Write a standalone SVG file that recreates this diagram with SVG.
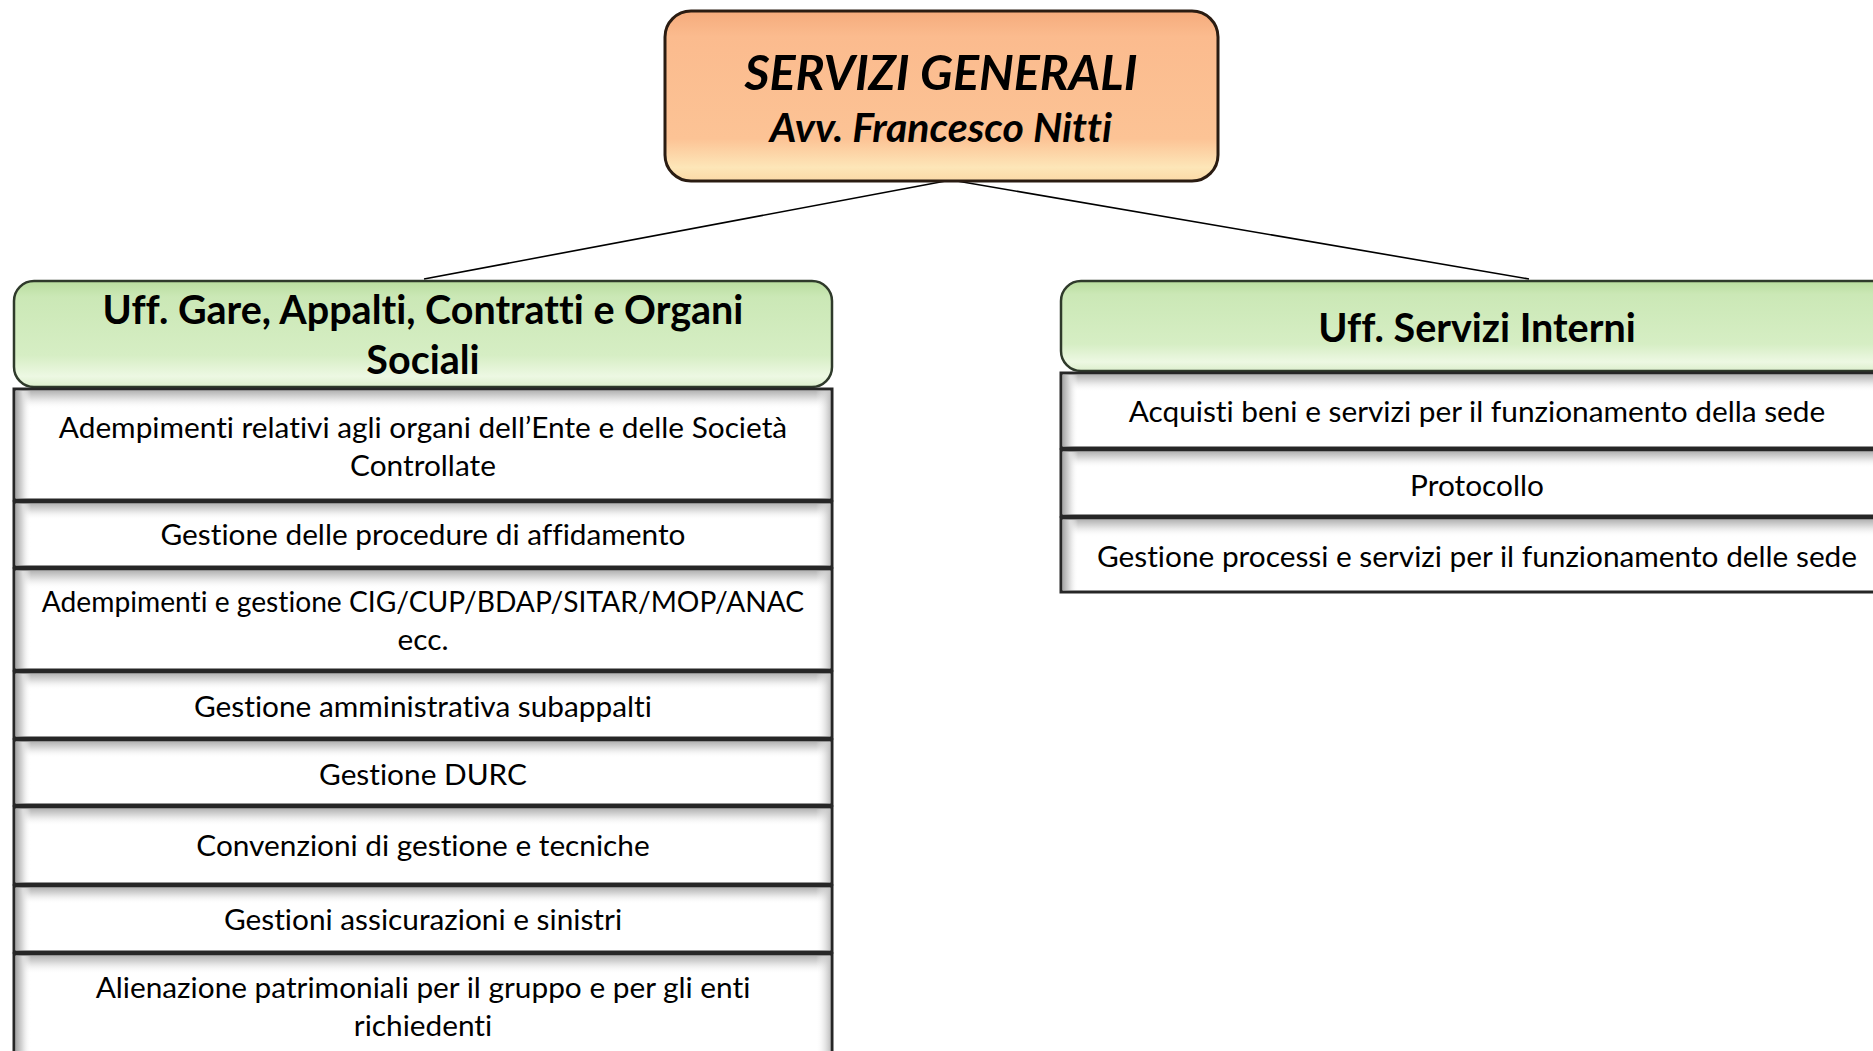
<svg xmlns="http://www.w3.org/2000/svg" width="1873" height="1051" viewBox="0 0 1873 1051">
<defs>
<linearGradient id="gOrange" x1="0" y1="0" x2="0" y2="1">
<stop offset="0" stop-color="#f5ab7c"/>
<stop offset="0.15" stop-color="#fbbb8e"/>
<stop offset="0.75" stop-color="#fcc395"/>
<stop offset="0.92" stop-color="#fde6b8"/>
<stop offset="1" stop-color="#fbd9a6"/>
</linearGradient>
<linearGradient id="gGreen" x1="0" y1="0" x2="0" y2="1">
<stop offset="0" stop-color="#b9dd9e"/>
<stop offset="0.15" stop-color="#cbe8b6"/>
<stop offset="0.7" stop-color="#d6eec4"/>
<stop offset="0.9" stop-color="#edf8e3"/>
<stop offset="1" stop-color="#dcefcc"/>
</linearGradient>
<linearGradient id="gTop" x1="0" y1="0" x2="0" y2="1">
<stop offset="0" stop-color="#b5b5b5"/>
<stop offset="0.4" stop-color="#dedede"/>
<stop offset="1" stop-color="#ffffff" stop-opacity="0"/>
</linearGradient>
<linearGradient id="gLeft" x1="0" y1="0" x2="1" y2="0">
<stop offset="0" stop-color="#a9a9a9"/>
<stop offset="0.45" stop-color="#dcdcdc"/>
<stop offset="1" stop-color="#ffffff" stop-opacity="0"/>
</linearGradient>
<linearGradient id="gRight" x1="1" y1="0" x2="0" y2="0">
<stop offset="0" stop-color="#c4c4c4"/>
<stop offset="1" stop-color="#ffffff" stop-opacity="0"/>
</linearGradient>
</defs>
<style>
.top{fill:url(#gOrange);stroke:#2a1c12;stroke-width:3}
.hdr{fill:url(#gGreen);stroke:#2f3a2b;stroke-width:2.5}
.item{fill:#ffffff;stroke:#262626;stroke-width:3}
.bt{fill:url(#gTop)}
.bl{fill:url(#gLeft)}
.br{fill:url(#gRight)}
.conn{stroke:#000;stroke-width:1.6;fill:none}
text{font-family:Lato,"Open Sans","Liberation Sans",sans-serif;fill:#000;text-anchor:middle;font-variant-ligatures:none;font-feature-settings:"liga" 0,"clig" 0}
.t1{font-size:48.5px;font-weight:700;font-style:italic}
.t2{font-size:41px;font-weight:700;font-style:italic}
.h{font-size:39.5px;font-weight:700}
.i{font-size:29.8px}
.ic{font-size:28.2px}
</style>
<rect width="1873" height="1051" fill="#ffffff"/>
<g id="connectors">
<line class="conn" x1="951" y1="180" x2="424" y2="279"/>
<line class="conn" x1="951" y1="180" x2="1529" y2="279"/>
</g>
<g id="servizi-generali">
<rect class="top" x="665" y="11" width="553" height="170" rx="26"/>
<text class="t1" x="941" y="90">SERVIZI GENERALI</text>
<text class="t2" x="941" y="142">Avv. Francesco Nitti</text>
</g>
<g id="uff-gare">
<rect class="hdr" x="14" y="281" width="818" height="106" rx="20"/>
<text class="h" x="423" y="324">Uff. Gare, Appalti, Contratti e Organi</text>
<text class="h" x="423" y="374">Sociali</text>
</g>
<g id="item-l1">
<rect class="item" x="14" y="389" width="818" height="111"/>
<rect class="bt" x="16" y="391" width="814" height="18"/><rect class="bl" x="16" y="391" width="15" height="107"/><rect class="br" x="816" y="391" width="14" height="107"/>
<text class="i" x="423" y="438">Adempimenti relativi agli organi dell’Ente e delle Società</text>
<text class="i" x="423" y="476">Controllate</text>
</g>
<g id="item-l2">
<rect class="item" x="14" y="502" width="818" height="65"/>
<rect class="bt" x="16" y="504" width="814" height="16"/><rect class="bl" x="16" y="504" width="15" height="61"/><rect class="br" x="816" y="504" width="14" height="61"/>
<text class="i" x="423" y="545">Gestione delle procedure di affidamento</text>
</g>
<g id="item-l3">
<rect class="item" x="14" y="569" width="818" height="101"/>
<rect class="bt" x="16" y="571" width="814" height="18"/><rect class="bl" x="16" y="571" width="15" height="97"/><rect class="br" x="816" y="571" width="14" height="97"/>
<text class="ic" x="423" y="612">Adempimenti e gestione CIG/CUP/BDAP/SITAR/MOP/ANAC</text>
<text class="i" x="423" y="650">ecc.</text>
</g>
<g id="item-l4">
<rect class="item" x="14" y="672" width="818" height="66"/>
<rect class="bt" x="16" y="674" width="814" height="16"/><rect class="bl" x="16" y="674" width="15" height="62"/><rect class="br" x="816" y="674" width="14" height="62"/>
<text class="i" x="423" y="717">Gestione amministrativa subappalti</text>
</g>
<g id="item-l5">
<rect class="item" x="14" y="740" width="818" height="65"/>
<rect class="bt" x="16" y="742" width="814" height="16"/><rect class="bl" x="16" y="742" width="15" height="61"/><rect class="br" x="816" y="742" width="14" height="61"/>
<text class="i" x="423" y="785">Gestione DURC</text>
</g>
<g id="item-l6">
<rect class="item" x="14" y="807" width="818" height="77"/>
<rect class="bt" x="16" y="809" width="814" height="17"/><rect class="bl" x="16" y="809" width="15" height="73"/><rect class="br" x="816" y="809" width="14" height="73"/>
<text class="i" x="423" y="856">Convenzioni di gestione e tecniche</text>
</g>
<g id="item-l7">
<rect class="item" x="14" y="886" width="818" height="66"/>
<rect class="bt" x="16" y="888" width="814" height="16"/><rect class="bl" x="16" y="888" width="15" height="62"/><rect class="br" x="816" y="888" width="14" height="62"/>
<text class="i" x="423" y="930">Gestioni assicurazioni e sinistri</text>
</g>
<g id="item-l8">
<rect class="item" x="14" y="954" width="818" height="110"/>
<rect class="bt" x="16" y="956" width="814" height="18"/><rect class="bl" x="16" y="956" width="15" height="100"/><rect class="br" x="816" y="956" width="14" height="100"/>
<text class="i" x="423" y="998">Alienazione patrimoniali per il gruppo e per gli enti</text>
<text class="i" x="423" y="1036">richiedenti</text>
</g>
<g id="uff-servizi-interni">
<rect class="hdr" x="1061" y="281" width="840" height="90" rx="20"/>
<text class="h" x="1477" y="342">Uff. Servizi Interni</text>
</g>
<g id="item-r1">
<rect class="item" x="1061" y="373" width="840" height="75"/>
<rect class="bt" x="1063" y="375" width="836" height="17"/><rect class="bl" x="1063" y="375" width="15" height="71"/>
<text class="i" x="1477" y="422">Acquisti beni e servizi per il funzionamento della sede</text>
</g>
<g id="item-r2">
<rect class="item" x="1061" y="450" width="840" height="66"/>
<rect class="bt" x="1063" y="452" width="836" height="16"/><rect class="bl" x="1063" y="452" width="15" height="62"/>
<text class="i" x="1477" y="496">Protocollo</text>
</g>
<g id="item-r3">
<rect class="item" x="1061" y="518" width="840" height="74"/>
<rect class="bt" x="1063" y="520" width="836" height="17"/><rect class="bl" x="1063" y="520" width="15" height="70"/>
<text class="i" x="1477" y="567">Gestione processi e servizi per il funzionamento delle sede</text>
</g>
</svg>
